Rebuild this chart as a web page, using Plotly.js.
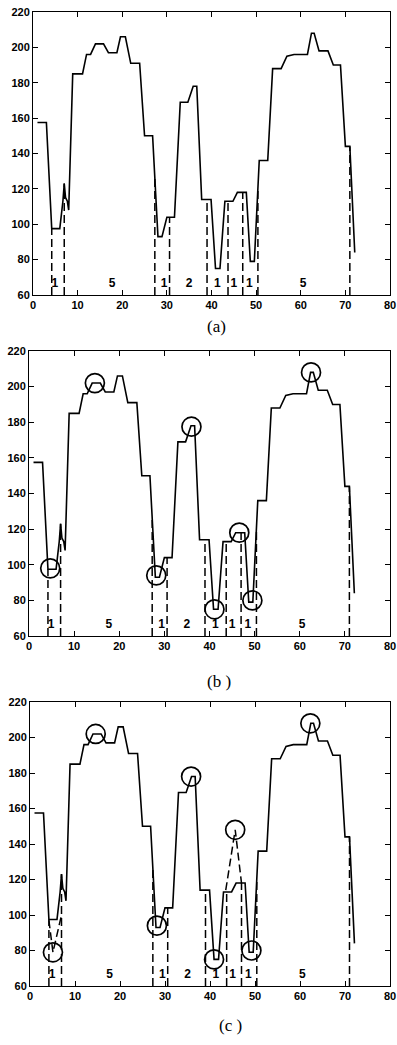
<!DOCTYPE html>
<html><head><meta charset="utf-8">
<script src="https://cdn.plot.ly/plotly-3.0.1.min.js"></script>
<style>html,body{margin:0;padding:0;background:#fff}#chart{width:397px;height:1045px}</style>
</head><body><div id="chart"></div>
<script>
// Main signal (same in all three panels)
const curveX = [1, 3, 4.2, 6, 6.7, 7, 7.3, 7.7, 8, 8.9, 11.1, 12, 12.9, 14, 15.8, 16.9, 18.8, 19.6, 20.7, 21.9, 23.9, 25, 26.8, 28, 28.9, 30, 31.7, 33, 34.7, 35.9, 36.7, 37.8, 39.9, 40.9, 41.9, 43, 44.8, 45.8, 47.8, 48.7, 49.6, 50.7, 52.6, 53.7, 55.6, 56.9, 58.5, 61.5, 62.4, 63, 64.1, 66.1, 67.3, 68.9, 70, 71, 72.1];
const curveY = [157.5, 157.5, 97.5, 97.5, 113, 123, 115, 113, 108, 185, 185, 196, 196, 202, 202, 197, 197, 206, 206, 191, 191, 150, 150, 93, 93, 104, 104, 169, 169, 178, 178, 114, 114, 75, 75, 113, 113, 118, 118, 79, 79, 136, 136, 188, 188, 195, 196, 196, 208, 208, 198, 198, 190, 190, 144, 144, 84];
// Segment boundaries (dashed verticals) and segment labels
const boundaryX = [4.2, 7.0, 27.3, 30.6, 39.0, 43.7, 47.0, 50.4, 71.0];
const segLabelX = [4.9, 17.7, 29.4, 35.0, 41.3, 45.0, 48.5, 60.5];
const segLabels = ['1', '5', '1', '2', '1', '1', '1', '5'];
// Circled extrema, panel (b)
const peakBX = [4.7, 14.6, 28.2, 36.0, 41.1, 46.6, 49.5, 62.5];
const peakBY = [98, 202, 94, 177.5, 75, 118, 80, 208];
// Circled extrema, panel (c)
const peakCX = [5.1, 14.6, 28.2, 35.8, 40.9, 45.6, 49.2, 62.3];
const peakCY = [79, 202, 94, 178, 75, 148, 80, 208];
// Dashed links to relocated extrema, panel (c)
const linkCX = [4.2, 5.1, 7.0, null, 43.5, 45.6, 47.0];
const linkCY = [97, 79, 100, null, 114, 148, 118];

const LABEL_Y = 66, YMIN = 60;

function interp(x) {
  for (let i = 0; i < curveX.length - 1; i++) {
    if (x >= curveX[i] && x <= curveX[i + 1]) {
      const t = (x - curveX[i]) / (curveX[i + 1] - curveX[i]);
      return curveY[i] + t * (curveY[i + 1] - curveY[i]);
    }
  }
  return curveY[curveY.length - 1];
}
const dashX = [], dashY = [];
boundaryX.forEach(b => { dashX.push(b, b, null); dashY.push(YMIN, interp(b), null); });

const W = 397, H = 1045;
const panels = [
  {l: 33, r: 390, t: 12, b: 295},
  {l: 29, r: 390, t: 351, b: 636},
  {l: 30, r: 390, t: 702, b: 986}
];
const tickFont = {family: 'Liberation Sans, Arial, sans-serif', size: 11, color: '#000', weight: 700};
const traces = [];
const layout = {
  width: W, height: H, margin: {l: 0, r: 0, t: 0, b: 0},
  paper_bgcolor: '#fff', plot_bgcolor: '#fff', showlegend: false,
  annotations: []
};
panels.forEach((p, i) => {
  const s = i === 0 ? '' : String(i + 1);
  const xa = 'x' + s, ya = 'y' + s;
  layout['xaxis' + s] = {
    domain: [p.l / W, p.r / W], range: [0, 80], dtick: 10, tick0: 0,
    ticks: 'inside', ticklen: 5, tickcolor: '#000', showline: true, linecolor: '#000', linewidth: 1,
    mirror: 'ticks', showgrid: false, zeroline: false, tickfont: tickFont, anchor: ya, fixedrange: true,
    ticklabeloverflow: 'allow'
  };
  layout['yaxis' + s] = {
    domain: [1 - p.b / H, 1 - p.t / H], range: [60, 220], dtick: 20, tick0: 60,
    ticks: 'inside', ticklen: 5, tickcolor: '#000', showline: true, linecolor: '#000', linewidth: 1,
    mirror: 'ticks', showgrid: false, zeroline: false, tickfont: tickFont, anchor: xa, fixedrange: true,
    ticklabeloverflow: 'allow'
  };
  traces.push({x: dashX, y: dashY, xaxis: xa, yaxis: ya, mode: 'lines', type: 'scatter',
    line: {color: '#000', width: 1.5, dash: '8px,4px'}, hoverinfo: 'skip'});
  traces.push({x: curveX, y: curveY, xaxis: xa, yaxis: ya, mode: 'lines', type: 'scatter',
    line: {color: '#000', width: 1.6}, hoverinfo: 'skip'});
  traces.push({x: segLabelX, y: segLabelX.map(() => LABEL_Y), text: segLabels, xaxis: xa, yaxis: ya,
    mode: 'text', type: 'scatter', textfont: {family: 'Liberation Sans, Arial, sans-serif', size: 12, color: '#000', weight: 700},
    hoverinfo: 'skip'});
  if (i === 1) {
    traces.push({x: peakBX, y: peakBY, xaxis: xa, yaxis: ya, mode: 'markers', type: 'scatter',
      marker: {symbol: 'circle-open', size: 19, color: '#000', line: {width: 1.7, color: '#000'}}, hoverinfo: 'skip'});
  }
  if (i === 2) {
    traces.push({x: linkCX, y: linkCY, xaxis: xa, yaxis: ya, mode: 'lines', type: 'scatter',
      line: {color: '#000', width: 1.5, dash: '8px,4px'}, hoverinfo: 'skip'});
    traces.push({x: peakCX, y: peakCY, xaxis: xa, yaxis: ya, mode: 'markers', type: 'scatter',
      marker: {symbol: 'circle-open', size: 19, color: '#000', line: {width: 1.7, color: '#000'}}, hoverinfo: 'skip'});
  }
});
const captions = [
  {text: '(a)', x: 216, y: 327},
  {text: '(b )', x: 219, y: 681},
  {text: '(c )', x: 230, y: 1025}
];
captions.forEach(c => layout.annotations.push({
  text: c.text, xref: 'paper', yref: 'paper', x: c.x / W, y: 1 - c.y / H,
  xanchor: 'center', yanchor: 'middle', showarrow: false,
  font: {family: 'Liberation Serif, Times New Roman, serif', size: 17, color: '#000'}
}));
Plotly.newPlot('chart', traces, layout, {displayModeBar: false, staticPlot: true});
</script></body></html>
